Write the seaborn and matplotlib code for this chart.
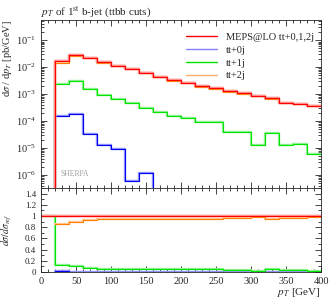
import numpy as np
import matplotlib
matplotlib.use("Agg")
import matplotlib.pyplot as plt
import seaborn as sns
from matplotlib.lines import Line2D
from matplotlib.ticker import MultipleLocator, NullFormatter, FixedLocator, FuncFormatter, LogFormatterSciNotation

# bin edges of the pT histogram (GeV)
edges = [20, 40, 60, 80, 100, 120, 140, 160, 180, 200, 220, 240, 260, 280, 300, 320, 340, 360, 380, 400]

# dsigma/dpT [pb/GeV]
total = [0.0172, 0.0286, 0.0228, 0.0158, 0.0115, 0.0087, 0.0062, 0.0044, 0.0033, 0.0027,
         0.0020, 0.00167, 0.00129, 0.00106, 0.00085, 0.00071, 0.00048, 0.00045, 0.00037]
tt0j = [1.6e-4, 1.77e-4, 3.2e-5, 1.26e-5, 8.9e-6, 5.8e-7, 1.18e-6, 0, 0, 0,
        0, 0, 0, 0, 0, 0, 0, 0, 0]
tt1j = [0.0023, 0.0030, 0.0016, 0.00097, 0.00069, 0.00046, 0.00030, 0.00021, 0.00016, 0.00013,
        9.1e-5, 9.4e-5, 4.0e-5, 3.8e-5, 1.29e-5, 3.7e-5, 1.3e-5, 1.36e-5, 6.0e-6]
tt2j = [0.01474, 0.02542, 0.02117, 0.01482, 0.01080, 0.00824, 0.00590, 0.00419, 0.00314, 0.00257,
        0.00191, 0.001576, 0.00125, 0.001022, 0.000837, 0.000673, 0.000467, 0.000436, 0.000364]

labels = ["MEPS@LO tt+0,1,2j", "tt+0j", "tt+1j", "tt+2j"]
colors = ["#ff0000", "#0000ee", "#00e600", "#ff8000"]
band_colors = ["#ff9090", "#9090ff", "#90f090", "#ffc890"]
log_ticks = [1e-6, 1e-5, 1e-4, 1e-3, 1e-2, 1e-1]
ratio_ticks = [0, 0.2, 0.4, 0.6, 0.8, 1.0, 1.2, 1.4]
ratio_minor = [0.1, 0.3, 0.5, 0.7, 0.9, 1.1, 1.3, 1.5]

sns.set_style("ticks")
plt.rcParams["font.family"] = ["Liberation Serif", "DejaVu Serif"]
plt.rcParams["mathtext.fontset"] = "stix"

fig = plt.figure(figsize=(3.32, 3.0), dpi=100)
ax = fig.add_axes([0.1235, 0.3733, 0.8434, 0.56])
rax = fig.add_axes([0.1235, 0.0933, 0.8434, 0.28], sharex=ax)


def step(axis, xs, ys, color, band, lw=0.75):
    # xs are the left edges plus the final right edge
    y_ext = list(ys) + [ys[-1]]
    sns.lineplot(x=xs, y=y_ext, ax=axis, color=band, lw=1.7, drawstyle="steps-post",
                 estimator=None, sort=False, legend=False)
    sns.lineplot(x=xs, y=y_ext, ax=axis, color=color, lw=lw, drawstyle="steps-post",
                 estimator=None, sort=False, legend=False)


main_series = [total, tt0j, tt1j, tt2j]
ax.set_yscale("log", nonpositive="clip")
for vals, c, bc in zip(main_series, colors, band_colors):
    step(ax, [0] + edges, [0] + list(vals), c, bc)
# total on top
step(ax, [0] + edges, [0] + list(total), colors[0], band_colors[0])

ax.set_xlim(0, 400)
ax.set_ylim(3.3e-7, 0.565)
# only ticks inside the visible range
minor_log = [m * 10.0 ** e for e in range(-7, 0) for m in range(2, 10)]
minor_log = [v for v in minor_log if 3.3e-7 <= v <= 0.565]
ax.yaxis.set_major_locator(FixedLocator(log_ticks))
ax.yaxis.set_major_formatter(LogFormatterSciNotation())
ax.yaxis.set_minor_locator(FixedLocator(minor_log))
ax.yaxis.set_minor_formatter(NullFormatter())
ax.xaxis.set_major_locator(MultipleLocator(50))
ax.xaxis.set_minor_locator(MultipleLocator(10))
ax.tick_params(labelbottom=False)
ax.set_ylabel(r"d$\sigma$ / d$p_T$ [pb/GeV]", fontsize=7.5, loc="top")
ax.set_xlabel("")
ax.set_title(r"$p_T$ of 1$^{\rm st}$ b-jet (ttbb cuts)", loc="left", fontsize=8, pad=4)
ax.text(0.07, 0.07, "SHERPA", transform=ax.transAxes, color="#a0a0a0", fontsize=5.5)

handles = [Line2D([], [], color=c, lw=1.0) for c in ["#ff0000", "#8080ff", "#00e600", "#ffb070"]]
ax.legend(handles, labels, loc="upper right", bbox_to_anchor=(1.0, 0.97), frameon=False,
          fontsize=7.5, handlelength=3.0, labelspacing=0.35, borderaxespad=0.3)

# ratio panel
tot = np.array(total)
ratio_edges = [0] + edges
r_total = [1.0] * 20
r0 = [np.nan] + list(np.array(tt0j) / tot)
r1 = [1.0] + list(np.array(tt1j) / tot)
r2 = [np.nan] + list(np.array(tt2j) / tot)
step(rax, ratio_edges, r_total, colors[0], band_colors[0])
step(rax, ratio_edges, r0, colors[1], band_colors[1])
step(rax, ratio_edges, r1, colors[2], band_colors[2])
step(rax, ratio_edges, r2, colors[3], band_colors[3])
step(rax, ratio_edges, r_total, colors[0], band_colors[0])

rax.set_ylim(0, 1.5)
rax.set_xlim(0, 400)
rax.yaxis.set_major_locator(FixedLocator(ratio_ticks))
rax.yaxis.set_minor_locator(FixedLocator(ratio_minor))
rax.yaxis.set_major_formatter(FuncFormatter(lambda v, p: f"{v:g}"))
rax.yaxis.set_minor_formatter(NullFormatter())
rax.set_ylabel(r"$d\sigma/d\sigma_{ref}$", fontsize=7)
rax.set_xlabel(r"$p_T$ [GeV]", fontsize=8, loc="right", labelpad=0)

for a in (ax, rax):
    a.tick_params(which="both", direction="in", top=True, right=True, labelsize=7.5, width=0.6)
    a.tick_params(which="major", length=4)
    a.tick_params(which="minor", length=2)
    for s in a.spines.values():
        s.set_linewidth(0.6)
rax.tick_params(axis="y", labelsize=6.5)
ax.yaxis.set_label_coords(-0.095, 1.0)
rax.yaxis.set_label_coords(-0.095, 0.5)

fig.savefig("out.png", dpi=100)
